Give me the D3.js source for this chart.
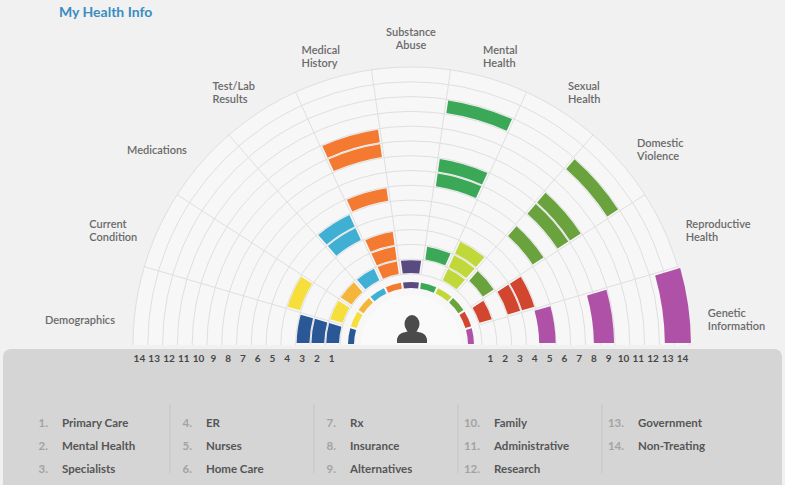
<!DOCTYPE html>
<html>
<head>
<meta charset="utf-8">
<script src="https://cdn.jsdelivr.net/npm/d3@7/dist/d3.min.js"></script>
<style>
  body { margin: 0; background: #f1f1f1; }
  svg { display: block; font-family: Lato, "Open Sans", sans-serif; }
</style>
</head>
<body>
<script>
var width = 785;
var height = 485;
var cx = 411;
var cy = 345;

// sectors, left to right
var categories = ["Demographics", "Current Condition", "Medications", "Test/Lab Results",
  "Medical History", "Substance Abuse", "Mental Health", "Sexual Health",
  "Domestic Violence", "Reproductive Health", "Genetic Information"];

// filled bands per sector, [from, to] in ring units (ring k runs k-1 .. k)
var demographics = [[0, 1], [1, 2], [2, 3]];
var currentCondition = [[0, 1], [3, 4]];
var medications = [[0, 1]];
var testLab = [[0, 1], [3, 4], [4, 5]];
var medicalHistory = [[0, 1], [1, 2], [2, 3], [5, 6], [8, 9], [9, 10]];
var substanceAbuse = [[0, 1]];
var mentalHealth = [[1, 2], [6, 7], [7, 8], [11, 12]];
var sexualHealth = [[0, 1], [1, 2], [2, 3]];
var domesticViolence = [[1, 2], [5, 6], [7, 8], [8, 9], [11, 12]];
var reproductiveHealth = [[0, 1], [2, 3], [3, 4]];
var geneticInfo = [[3.8, 5.05], [7.5, 9], [12.3, 14.2]];
var bands = [demographics, currentCondition, medications, testLab, medicalHistory,
  substanceAbuse, mentalHealth, sexualHealth, domesticViolence, reproductiveHealth, geneticInfo];

var ringTicks = d3.range(1, 15);

var legendItems = ["Primary Care", "Mental Health", "Specialists", "ER", "Nurses", "Home Care",
  "Rx", "Insurance", "Alternatives", "Family", "Administrative", "Research",
  "Government", "Non-Treating"];

var colors = ["#2a5796", "#f6df3c", "#f5b43a", "#40afd4", "#f37a30", "#5a4a82",
  "#3aa856", "#c1d83b", "#6aa33e", "#d2452f", "#af52a7"];

var svg = d3.select("body").append("svg")
  .attr("width", width)
  .attr("height", height);

svg.append("text")
  .attr("x", 59).attr("y", 17)
  .attr("font-size", 14).attr("font-weight", 700)
  .attr("fill", "#3a8dc1")
  .text("My Health Info");

var angle = d3.scaleBand().domain(categories).range([-Math.PI / 2, Math.PI / 2]);
var radius = d3.scaleLinear().domain([0, 14]).range([71, 278]);
var color = d3.scaleOrdinal().domain(categories).range(colors);

var g = svg.append("g").attr("transform", `translate(${cx}, ${cy})`);

// chart face
g.append("path")
  .attr("d", d3.arc()({innerRadius: 0, outerRadius: radius(14), startAngle: -Math.PI / 2, endAngle: Math.PI / 2}))
  .attr("fill", "#f7f7f7");
g.append("path")
  .attr("d", d3.arc()({innerRadius: 0, outerRadius: 50, startAngle: -Math.PI / 2, endAngle: Math.PI / 2}))
  .attr("fill", "#fafafa");

// ring lines
g.selectAll(".ring")
  .data(d3.range(0, 15))
  .enter().append("path")
  .attr("class", "ring")
  .attr("d", function(k) {
    var p = d3.path();
    var r = radius(k);
    p.moveTo(-r, 0);
    p.arc(0, 0, r, Math.PI, 2 * Math.PI);
    return p.toString();
  })
  .attr("fill", "none")
  .attr("stroke", "#dfdfdf");

// sector lines
g.selectAll(".spoke")
  .data(categories.slice(1))
  .enter().append("line")
  .attr("class", "spoke")
  .attr("x1", function(d) { return radius(0) * Math.sin(angle(d)); })
  .attr("y1", function(d) { return -radius(0) * Math.cos(angle(d)); })
  .attr("x2", function(d) { return radius(14) * Math.sin(angle(d)); })
  .attr("y2", function(d) { return -radius(14) * Math.cos(angle(d)); })
  .attr("stroke", "#dfdfdf");

// bars
var arc = d3.arc().padAngle(0.04).padRadius(100);
var barData = [];
categories.forEach(function(c, i) {
  bands[i].forEach(function(b) { barData.push({cat: c, from: b[0], to: b[1]}); });
});
g.selectAll(".bar")
  .data(barData)
  .enter().append("path")
  .attr("class", "bar")
  .attr("d", function(d) {
    return arc({
      innerRadius: radius(d.from) + 1,
      outerRadius: radius(d.to) - 1,
      startAngle: angle(d.cat),
      endAngle: angle(d.cat) + angle.bandwidth()
    });
  })
  .attr("fill", function(d) { return color(d.cat); });

// inner thin ring
var thin = d3.arc().innerRadius(57).outerRadius(63).padAngle(0.035).padRadius(60);
g.selectAll(".thin")
  .data(categories)
  .enter().append("path")
  .attr("class", "thin")
  .attr("d", function(d) { return thin({startAngle: angle(d), endAngle: angle(d) + angle.bandwidth()}); })
  .attr("fill", color);

// person icon
var icon = g.append("g").attr("fill", "#4b4b4b");
icon.append("ellipse").attr("cx", 1).attr("cy", -21).attr("rx", 7.5).attr("ry", 9);
icon.append("path")
  .attr("d", "M-14,-2 L-14,-6 Q-13,-12 -5,-13 L-3,-14 L5,-14 L7,-13 Q15,-12 16,-6 L16,-2 Z");

// sector labels
var labelAngle = d3.scaleLinear().domain([0, 1, 2, 3, 4]).range([5, 22.8, 41, 58.2, 76]);
var labelR = 298;
var n = categories.length;
categories.forEach(function(c, i) {
  var edge = Math.min(i, n - 1 - i);
  var side = i < (n - 1) / 2 ? -1 : (i > (n - 1) / 2 ? 1 : 0);
  var th = (side === 0 ? 90 : labelAngle(edge)) * Math.PI / 180;
  var px = cx + side * labelR * Math.cos(th);
  var py = cy - labelR * Math.sin(th);
  var t = svg.append("text")
    .attr("font-size", 11).attr("font-weight", 600)
    .attr("fill", "#6a6a6a")
    .attr("text-anchor", side === 0 ? "middle" : "start");
  c.split(" ").forEach(function(line, j) {
    t.append("tspan").attr("x", 0).attr("y", j * 13).text(line);
  });
  var bb = t.node().getBBox();
  var dx = side < 0 ? -bb.width - bb.x + 1 : (side > 0 ? -bb.x : 0);
  var dy = -(bb.y + bb.height / 2) - (side === 0 ? 9 : 0);
  t.attr("transform", `translate(${px + dx}, ${py + dy})`);
});

// legend panel
svg.append("rect")
  .attr("x", 3).attr("y", 349)
  .attr("width", 779).attr("height", 150)
  .attr("rx", 8)
  .attr("fill", "#d5d5d5");

// ring numbers
var ringMid = function(k) { return (radius(k - 1) + radius(k)) / 2; };
var ticks = svg.append("g")
  .attr("font-size", 10).attr("font-weight", 700)
  .attr("fill", "#474747").attr("text-anchor", "middle");
ticks.selectAll(".tl").data(ringTicks).enter().append("text")
  .attr("x", function(k) { return cx - ringMid(k) - 1; })
  .attr("y", 362).text(function(k) { return k; });
ticks.selectAll(".tr").data(ringTicks).enter().append("text")
  .attr("x", function(k) { return cx + ringMid(k) + 1; })
  .attr("y", 362).text(function(k) { return k; });

// legend
var colX = function(col) { return 62 + 144 * col; };
var rowY = function(row) { return 427 + 23 * row; };
var legend = svg.append("g").attr("font-size", 11.5).attr("font-weight", 700);
legend.selectAll(".num").data(legendItems).enter().append("text")
  .attr("x", function(d, i) { return colX(Math.floor(i / 3)) - 14; })
  .attr("y", function(d, i) { return rowY(i % 3); })
  .attr("text-anchor", "end")
  .attr("fill", "#a3a3a3")
  .text(function(d, i) { return (i + 1) + "."; });
legend.selectAll(".lab").data(legendItems).enter().append("text")
  .attr("x", function(d, i) { return colX(Math.floor(i / 3)); })
  .attr("y", function(d, i) { return rowY(i % 3); })
  .attr("fill", "#555")
  .text(function(d) { return d; });
legend.selectAll(".div").data(d3.range(1, 5)).enter().append("line")
  .attr("x1", function(c) { return colX(c) - 36; })
  .attr("x2", function(c) { return colX(c) - 36; })
  .attr("y1", 404).attr("y2", 473)
  .attr("stroke", "#c4c4c4");
</script>
</body>
</html>
